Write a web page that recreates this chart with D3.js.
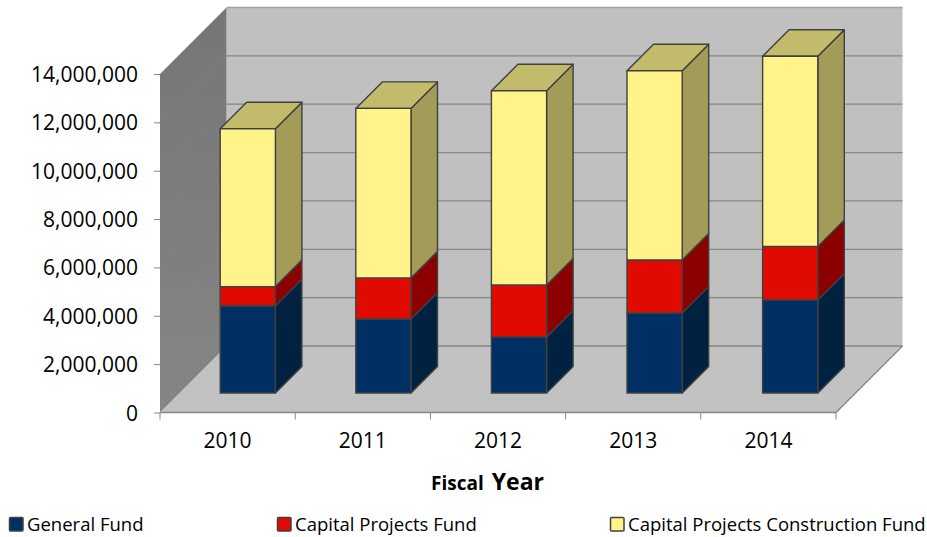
<!DOCTYPE html>
<html>
<head>
<meta charset="utf-8">
<script src="https://cdn.jsdelivr.net/npm/d3@7"></script>
<style>
    html, body { margin: 0; padding: 0; background: #fff; }
    svg { display: block; }
    text { font-family: "Open Sans", sans-serif; fill: #000; }
</style>
</head>
<body>
<div id="chart"></div>
<script>
const years = ["2010", "2011", "2012", "2013", "2014"];
const seriesNames = ["General Fund", "Capital Projects Fund", "Capital Projects Construction Fund"];
const generalFund = [3610000, 3060000, 2320000, 3310000, 3850000];
const capitalProjects = [790000, 1700000, 2150000, 2190000, 2210000];
const construction = [6530000, 7010000, 8030000, 7830000, 7870000];
const yTicks = [0, 2000000, 4000000, 6000000, 8000000, 10000000, 12000000, 14000000];

const colors = [
    {front: "#003063", side: "#00213f", top: "#00213f"},
    {front: "#e00a00", side: "#8c0000", top: "#8c0000"},
    {front: "#fff38a", side: "#a29c58", top: "#c2bb6c"}
];

const W = 927, H = 537;
const wallDepth = 66.5;   // how far the back wall sits from the front plane
const barOffset = 19.5;   // front of the bars, measured from the front plane
const barDepth = 26.5;

const svg = d3.select("#chart").append("svg").attr("width", W).attr("height", H);

const x = d3.scaleBand().domain(years).range([160, 836]).paddingInner(0.593).paddingOuter(0.2965);
// the bars drift a little to the right of the floor categories, perspective of the original
const barX = d3.scaleBand().domain(years).range([160.5, 838.5]).paddingInner(0.593).paddingOuter(0.2965);
const y = d3.scaleLinear().domain([0, 14000000]).range([412.5, 74]);

const rows = years.map((year, i) => ({year, values: [generalFund[i], capitalProjects[i], construction[i]]}));
const stack = d3.stack().keys([0, 1, 2]).value((d, k) => d.values[k]);
const stacked = stack(rows);

const poly = pts => "M" + pts.map(p => p.join(",")).join("L") + "Z";

// walls
const defs = svg.append("defs");
const wallGrad = defs.append("linearGradient").attr("id", "wallGrad").attr("x1", 0).attr("x2", 0).attr("y1", 0).attr("y2", 1);
wallGrad.append("stop").attr("offset", "0%").attr("stop-color", "#767676");
wallGrad.append("stop").attr("offset", "100%").attr("stop-color", "#858585");

const left = x.range()[0], right = x.range()[1];
const yTop = y(14000000), yBase = y(0);

svg.append("path")
    .attr("d", poly([[left + wallDepth, yTop - wallDepth], [right + wallDepth, yTop - wallDepth], [right + wallDepth, yBase - wallDepth], [left + wallDepth, yBase - wallDepth]]))
    .attr("fill", "#c0c0c0");
svg.append("path")
    .attr("d", poly([[left, yBase], [left + wallDepth, yBase - wallDepth], [right + wallDepth, yBase - wallDepth], [right, yBase]]))
    .attr("fill", "#c2c2c2");
svg.append("path")
    .attr("d", poly([[left, yTop], [left + wallDepth, yTop - wallDepth], [left + wallDepth, yBase - wallDepth], [left, yBase]]))
    .attr("fill", "url(#wallGrad)");

// gridlines on back and side wall
svg.append("g").selectAll("line").data(yTicks).enter().append("line")
    .attr("x1", left + wallDepth).attr("x2", right + wallDepth)
    .attr("y1", d => y(d) - wallDepth).attr("y2", d => y(d) - wallDepth)
    .attr("stroke", (d, i) => i === yTicks.length - 1 ? "#a0a0a0" : "#868686")
    .attr("stroke-width", 1.3);
svg.append("g").selectAll("line").data(yTicks.slice(1, -1)).enter().append("line")
    .attr("x1", left).attr("x2", left + wallDepth)
    .attr("y1", d => y(d)).attr("y2", d => y(d) - wallDepth)
    .attr("stroke", "#838383").attr("stroke-width", 1);

// floor edges
svg.append("path")
    .attr("d", `M${left},${yBase}L${right},${yBase}L${right + wallDepth},${yBase - wallDepth}`)
    .attr("fill", "none").attr("stroke", "#868686").attr("stroke-width", 1.3);

// bars
const barGroup = svg.append("g");
rows.forEach((row, i) => {
    const x0 = barX(row.year) + barOffset, x1 = x0 + barX.bandwidth();
    stacked.forEach((layer, k) => {
        const yLow = y(layer[i][0]) - barOffset, yHigh = y(layer[i][1]) - barOffset;
        const g = barGroup.append("g").attr("stroke", "#404040").attr("stroke-width", 1.4).attr("stroke-linejoin", "round");
        g.append("path")
            .attr("d", poly([[x1, yLow], [x1 + barDepth, yLow - barDepth], [x1 + barDepth, yHigh - barDepth], [x1, yHigh]]))
            .attr("fill", colors[k].side);
        if (k === stacked.length - 1) {
            g.append("path")
                .attr("d", poly([[x0, yHigh], [x0 + barDepth, yHigh - barDepth], [x1 + barDepth, yHigh - barDepth], [x1, yHigh]]))
                .attr("fill", colors[k].top);
        }
        g.append("path")
            .attr("d", poly([[x0, yLow], [x1, yLow], [x1, yHigh], [x0, yHigh]]))
            .attr("fill", colors[k].front);
    });
});

// axes
const yAxis = d3.axisLeft(y).tickValues(yTicks).tickFormat(d3.format(",")).tickSize(6).tickPadding(16);
const yG = svg.append("g").attr("transform", `translate(${left},0)`).call(yAxis);
yG.select(".domain").remove();
yG.selectAll("line").attr("stroke", "#868686");
yG.selectAll("text").attr("font-size", 21).attr("font-family", "Open Sans").attr("dy", "0.36em");

const xAxis = d3.axisBottom(x).tickSize(0).tickPadding(21);
const xG = svg.append("g").attr("transform", `translate(0,${yBase})`).call(xAxis);
xG.select(".domain").remove();
xG.selectAll("text").attr("font-size", 21).attr("font-family", "Open Sans");

const edges = years.map(yr => x(yr) - x.step() * x.paddingInner() / 2).concat([right]);
xG.selectAll("line.edge").data(edges).enter().append("line").classed("edge", true)
    .attr("x1", d => d).attr("x2", d => d).attr("y1", 0).attr("y2", 7)
    .attr("stroke", "#868686");

// axis title
const title = svg.append("text").attr("x", 431).attr("y", 490).attr("font-weight", "bold");
title.append("tspan").attr("font-size", 19).text("Fiscal");
title.append("tspan").attr("font-size", 23).attr("dx", 8).text("Year");

// legend
const legendX = d3.scaleOrdinal().domain(seriesNames).range([9, 277, 610]);
const legend = svg.append("g").selectAll("g").data(seriesNames).enter().append("g")
    .attr("transform", d => `translate(${legendX(d)},517)`);
legend.append("rect")
    .attr("x", 0.5).attr("y", 0.5).attr("width", 13.5).attr("height", 13.5).attr("rx", 1)
    .attr("fill", (d, i) => colors[i].front)
    .attr("stroke", "#404040").attr("stroke-width", 1.5);
legend.append("text").attr("x", 18).attr("y", 13.5).attr("font-size", 18.5).text(d => d);
</script>
</body>
</html>
